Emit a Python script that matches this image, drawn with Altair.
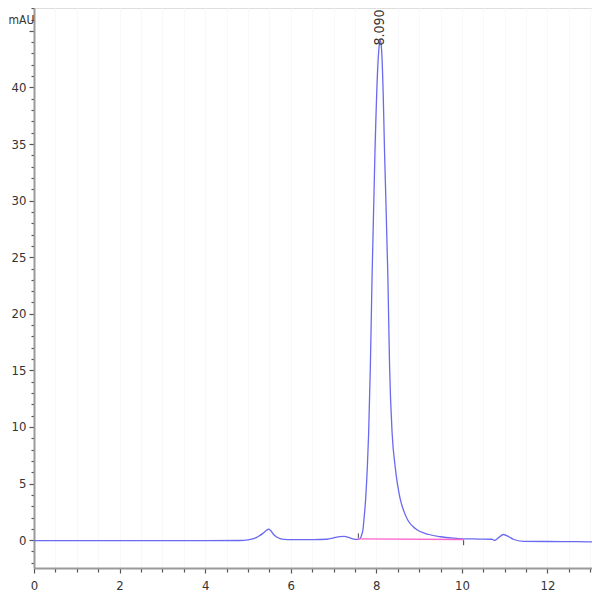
import altair as alt
import pandas as pd

# ---- data ----
time_min = [0.0, 2.0, 4.0, 4.8, 5.0, 5.15, 5.25, 5.35, 5.43, 5.48, 5.53, 5.6, 5.67, 5.75,
            5.85, 6.0, 6.5, 6.85, 7.0, 7.15, 7.25, 7.35, 7.45, 7.55, 7.62, 7.66, 7.69,
            7.71, 7.75, 7.79, 7.82, 7.86, 7.90, 7.97, 8.03, 8.07, 8.09, 8.12, 8.16, 8.19,
            8.27, 8.31, 8.37, 8.44, 8.56, 8.65, 8.73, 8.92, 9.23, 9.5, 9.8, 10.05, 10.4,
            10.7, 10.76, 10.85, 10.97, 11.1, 11.2, 11.43, 12.0, 12.7, 13.04]
mau = [-0.05, -0.05, -0.05, -0.03, 0.02, 0.15, 0.35, 0.6, 0.85, 0.98, 0.85, 0.5, 0.28, 0.14,
       0.07, 0.05, 0.05, 0.08, 0.2, 0.32, 0.33, 0.25, 0.12, 0.07, 0.15, 0.5, 1.0,
       1.8, 3.6, 6.5, 9.4, 15.3, 23.2, 34.6, 41.5, 43.8, 44.2, 43.5, 39.5, 34.6,
       23.2, 15.3, 9.4, 6.5, 3.6, 2.5, 1.8, 1.0, 0.5, 0.3, 0.18, 0.12, 0.1,
       0.08, -0.02, 0.2, 0.5, 0.3, 0.08, -0.1, -0.12, -0.13, -0.16]

baseline_t = [7.57, 10.04]
baseline_v = [0.12, 0.06]

marker_t = [7.58, 10.04]
marker_v1 = [0.2, 0.0]
marker_v2 = [0.6, -0.45]

peak_t = [8.09]
peak_v = [43.7]
peak_label = ["8.090"]

x_ticks = [i * 0.5 for i in range(27)]          # labelled every 2
y_ticks = list(range(-2, 48))                   # labelled every 5, up to 40

X_DOMAIN = [0, 13.04]
Y_DOMAIN = [-2.46, 47.02]

FONT = "Liberation Sans Narrow, DejaVu Sans Condensed, Liberation Sans, Arial, sans-serif"
LINE_COLOR = "#6a6af0"
BASE_COLOR = "#ff66cc"

trace = pd.DataFrame({"t": time_min, "v": mau})
base_df = pd.DataFrame({"t": baseline_t, "v": baseline_v})
mark_df = pd.DataFrame({"t": marker_t, "v1": marker_v1, "v2": marker_v2})
lab_df = pd.DataFrame({"t": peak_t, "v": peak_v, "label": peak_label})

xs = alt.Scale(domain=X_DOMAIN, nice=False, zero=False)
ys = alt.Scale(domain=Y_DOMAIN, nice=False, zero=False)

x_axis = alt.Axis(
    values=x_ticks, tickCount=500, orient="bottom",
    labelExpr="datum.value % 2 == 0 ? format(datum.value, 'd') : ''",
    grid=True, gridColor="#f8f8fa", gridWidth=1,
    domainColor="#9a9a9a", domainWidth=2, tickColor="#555555",
    tickSize={"condition": {"test": "datum.value % 2 == 0", "value": 5}, "value": 4},
    tickWidth=1.2, labelFont=FONT, labelFontSize=13,
    labelColor="#333333", labelPadding=6, labelFlush=False, labelOverlap=False,
    title=None,
)
y_axis = alt.Axis(
    values=y_ticks, tickCount=500, orient="left",
    labelExpr="(datum.value % 5 == 0 && datum.value >= 0 && datum.value <= 40) ? format(datum.value, 'd') : ''",
    grid=False,
    domainColor="#9a9a9a", domainWidth=2, tickColor="#555555",
    tickSize={"condition": {"test": "datum.value % 5 == 0", "value": 5}, "value": 3},
    tickWidth=1.2, labelFont=FONT, labelFontSize=13,
    labelColor="#333333", labelPadding=3, labelFlush=False, labelOverlap=False,
    title="mAU", titleAngle=0, titleAlign="left",
    titleBaseline="middle", titleX=-26, titleY=11,
    titleFont=FONT, titleFontSize=12, titleFontWeight="normal",
    titleColor="#333333",
)

line = alt.Chart(trace).mark_line(color=LINE_COLOR, strokeWidth=1.3,
                                  interpolate="monotone").encode(
    x=alt.X("t:Q", scale=xs, axis=x_axis),
    y=alt.Y("v:Q", scale=ys, axis=y_axis),
)

baseline = alt.Chart(base_df).mark_line(color=BASE_COLOR, strokeWidth=1.3).encode(
    x=alt.X("t:Q", scale=xs),
    y=alt.Y("v:Q", scale=ys),
)

markers = alt.Chart(mark_df).mark_rule(color="#444444", strokeWidth=1).encode(
    x=alt.X("t:Q", scale=xs),
    y=alt.Y("v1:Q", scale=ys),
    y2="v2:Q",
)

label = alt.Chart(lab_df).mark_text(angle=270, align="left", baseline="middle",
                                    font=FONT, fontSize=14, color="#333333").encode(
    x=alt.X("t:Q", scale=xs),
    y=alt.Y("v:Q", scale=ys),
    text="label:N",
)

chart = alt.layer(line, baseline, markers, label).properties(
    width=558, height=560,
    autosize=alt.AutoSizeParams(type="none"),
    padding={"left": 26, "top": 0, "right": 0, "bottom": 24},
).configure_view(stroke=None).configure(background="white")

chart.save("out.html", embed_options={"renderer": "svg", "actions": False})
